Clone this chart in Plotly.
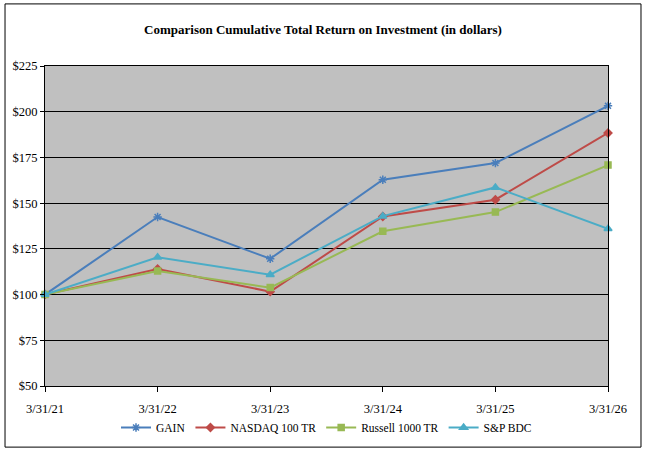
import plotly.graph_objects as go

# Values
dates = ['3/31/21', '3/31/22', '3/31/23', '3/31/24', '3/31/25', '3/31/26']
gain = [100, 142.4, 119.6, 162.8, 171.9, 203.2]
nasdaq = [100, 114.0, 101.6, 142.7, 151.9, 188.4]
russell = [100, 112.9, 103.8, 134.6, 145.1, 170.8]
sp_bdc = [100, 120.4, 110.9, 142.9, 158.6, 136.0]

series = [
    ('GAIN', gain, '#4A7EBB', 'asterisk-open', 7),
    ('NASDAQ 100 TR', nasdaq, '#BE4B48', 'diamond', 6),
    ('Russell 1000 TR', russell, '#98B954', 'square', 6),
    ('S&P BDC', sp_bdc, '#4BACC6', 'triangle-up', 7),
]

serif = 'Liberation Serif'

fig = go.Figure()
for name, vals, color, symbol, size in series:
    fig.add_trace(go.Scatter(
        x=dates, y=vals, name=name, mode='lines+markers',
        line=dict(color=color, width=2),
        marker=dict(symbol=symbol, size=size, color=color,
                    line=dict(color=color, width=1.5)),
        cliponaxis=False,
    ))

fig.update_layout(
    width=646, height=450,
    margin=dict(l=45, r=38, t=66, b=64),
    paper_bgcolor='white',
    plot_bgcolor='#C0C0C0',
    font=dict(family=serif, size=12, color='black'),
    title=dict(text='<b>Comparison Cumulative Total Return on Investment (in dollars)</b>',
               x=0.5, xanchor='center', y=0.935, yanchor='middle',
               font=dict(family=serif, size=13)),
    legend=dict(orientation='h', x=0.5, xanchor='center',
                yref='container', y=0.05, yanchor='middle',
                font=dict(family=serif, size=11.5), itemwidth=30, traceorder='normal',
                bgcolor='rgba(0,0,0,0)'),
    showlegend=True,
)

fig.update_xaxes(
    type='category', range=[0, 5], automargin=False,
    showgrid=False, zeroline=False,
    showline=True, linecolor='black', linewidth=1, mirror=True,
    ticks='outside', ticklen=5, tickcolor='black',
    ticklabelstandoff=6,
    tickfont=dict(family=serif, size=12.5),
)
fig.update_yaxes(
    range=[50, 225], dtick=25, tickprefix='$', automargin=False,
    showgrid=True, gridcolor='black', gridwidth=1.3,
    zeroline=False,
    showline=True, linecolor='black', linewidth=1, mirror=True,
    ticks='outside', ticklen=4, tickcolor='black',
    tickfont=dict(family=serif, size=12.5),
)

# outer chart border
fig.add_shape(type='rect', xref='paper', yref='paper',
              x0=-0.071, x1=1.0586, y0=-0.191, y1=1.194,
              line=dict(color='black', width=1), fillcolor='rgba(0,0,0,0)')

fig.write_html('out.html', config={'displayModeBar': False},
               post_script="document.body.style.margin='0';")
